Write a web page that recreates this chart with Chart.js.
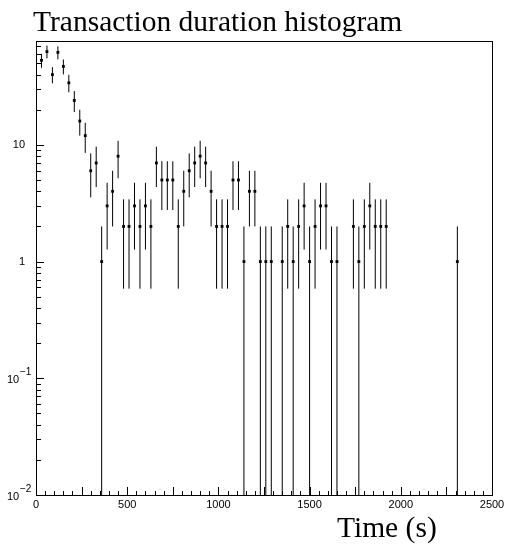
<!DOCTYPE html>
<html>
<head>
<meta charset="utf-8">
<script src="https://cdn.jsdelivr.net/npm/chart.js@4/dist/chart.umd.min.js"></script>
<style>
  body { margin: 0; background: #fff; }
  #wrap { width: 506px; height: 544px; }
</style>
</head>
<body>
<div id="wrap"><canvas id="hist" width="506" height="544"></canvas></div>
<script>
// histogram: 30 s bins, counts (0 = empty bin)
const binWidth = 30;
const counts = [
  53, 63, 40, 62, 47, 34, 24, 16, 12, 6,
  7, 1, 3, 4, 8, 2, 2, 3, 2, 3,
  2, 7, 5, 5, 5, 2, 4, 6, 7, 8,
  7, 4, 2, 2, 2, 5, 5, 1, 4, 4,
  1, 1, 1, 0, 1, 2, 1, 2, 3, 1,
  2, 3, 3, 1, 1, 0, 0, 2, 1, 2,
  3, 2, 2, 2, 0, 0, 0, 0, 0, 0,
  0, 0, 0, 0, 0, 0, 1
];
const binCenters = counts.map((_, i) => binWidth * (i + 1));

const xTicks = [0, 500, 1000, 1500, 2000, 2500];
const yDecades = [-2, -1, 0, 1];   // 10^-2 .. 10
const yMin = 0.01, yMax = 77.6;

const titleText = 'Transaction duration histogram';
const xTitle = 'Time (s)';

const points = [];
binCenters.forEach((x, i) => {
  if (counts[i] > 0) points.push({ x: x, y: counts[i] });
});

// vertical sqrt(N) error bars
const errorBars = {
  id: 'errorBars',
  beforeDatasetsDraw(chart) {
    const { ctx, scales: { x, y } } = chart;
    ctx.save();
    ctx.strokeStyle = '#000';
    ctx.lineWidth = 1;
    points.forEach(p => {
      const e = Math.sqrt(p.y);
      const lo = Math.max(p.y - e, yMin);
      const px = x.getPixelForValue(p.x);
      ctx.beginPath();
      ctx.moveTo(px, y.getPixelForValue(p.y + e));
      ctx.lineTo(px, Math.min(y.getPixelForValue(lo), chart.chartArea.bottom));
      ctx.stroke();
    });
    ctx.restore();
  }
};

// ROOT-like frame, inward ticks, labels and titles
const rootFrame = {
  id: 'rootFrame',
  afterDraw(chart) {
    const { ctx, chartArea: a, scales: { x, y } } = chart;
    ctx.save();
    ctx.strokeStyle = '#000';
    ctx.lineWidth = 1;
    ctx.strokeRect(a.left + 0.5, a.top + 0.5, a.right - a.left, a.bottom - a.top);

    ctx.beginPath();
    for (let v = 0; v <= 2500; v += 50) {
      const px = Math.round(x.getPixelForValue(v)) + 0.5;
      const len = v % 250 === 0 ? 8 : 4;
      ctx.moveTo(px, a.bottom);
      ctx.lineTo(px, a.bottom - len);
    }
    yDecades.forEach(d => {
      for (let k = 1; k <= 9; k++) {
        const v = k * Math.pow(10, d);
        if (v > yMax) break;
        const py = Math.round(y.getPixelForValue(v)) + 0.5;
        ctx.moveTo(a.left, py);
        ctx.lineTo(a.left + (k === 1 ? 8 : 5), py);
      }
    });
    ctx.stroke();

    ctx.fillStyle = '#000';
    ctx.font = '11px "Liberation Sans", Arial, sans-serif';
    ctx.textAlign = 'center';
    ctx.textBaseline = 'middle';
    xTicks.forEach(v => ctx.fillText(String(v), x.getPixelForValue(v), a.bottom + 10));

    yDecades.forEach(d => {
      const py = y.getPixelForValue(Math.pow(10, d));
      if (d === 0 || d === 1) {
        ctx.textAlign = 'right';
        ctx.fillText(d === 0 ? '1' : '10', 25, py);
      } else {
        ctx.textAlign = 'left';
        ctx.font = '11px "Liberation Sans", Arial, sans-serif';
        ctx.fillText('10', 7, py + 2);
        ctx.font = '10px "Liberation Sans", Arial, sans-serif';
        ctx.fillText('\u2212' + (-d), 20, py - 6);
        ctx.font = '11px "Liberation Sans", Arial, sans-serif';
      }
    });

    ctx.font = '29.5px "Liberation Serif", "Times New Roman", serif';
    ctx.textAlign = 'left';
    ctx.textBaseline = 'alphabetic';
    ctx.fillText(titleText, 33, 31);
    ctx.fillText(xTitle, 337, 537);
    ctx.restore();
  }
};

new Chart(document.getElementById('hist'), {
  type: 'scatter',
  data: {
    datasets: [{
      data: points,
      pointStyle: 'rect',
      pointRadius: 2,
      pointHoverRadius: 2,
      backgroundColor: '#000',
      borderColor: '#000',
      borderWidth: 0
    }]
  },
  options: {
    responsive: false,
    animation: false,
    events: [],
    layout: { padding: { left: 36, top: 41, right: 14, bottom: 49 } },
    plugins: { legend: { display: false }, tooltip: { enabled: false } },
    scales: {
      x: { type: 'linear', min: 0, max: 2500, display: false },
      y: { type: 'logarithmic', min: yMin, max: yMax, display: false }
    }
  },
  plugins: [errorBars, rootFrame]
});
</script>
</body>
</html>
